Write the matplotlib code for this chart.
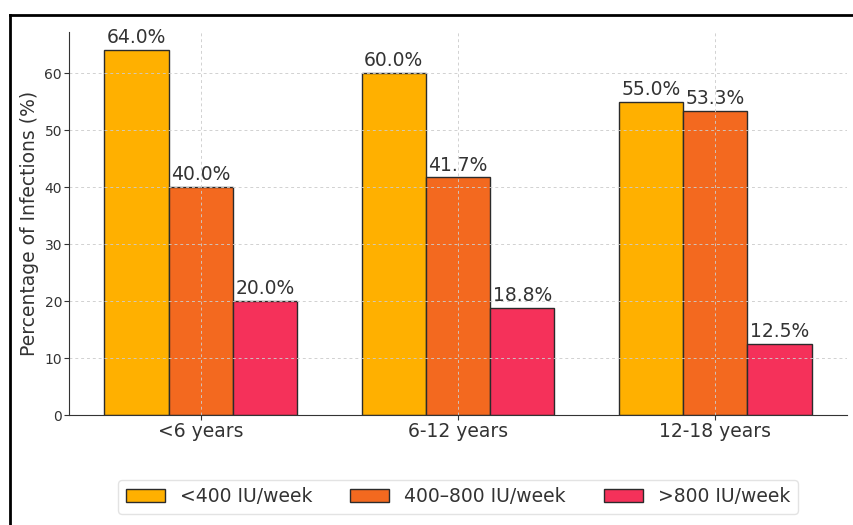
import matplotlib
matplotlib.use("Agg")
import matplotlib.pyplot as plt
from matplotlib.lines import Line2D
import numpy as np

age_groups = ["<6 years", "6-12 years", "12-18 years"]
dose_groups = ["<400 IU/week", "400\u2013800 IU/week", ">800 IU/week"]
low_dose = [64.0, 60.0, 55.0]
mid_dose = [40.0, 41.7, 53.3]
high_dose = [20.0, 18.8, 12.5]
colors = ["#FFB000", "#F3691F", "#F5315A"]

series = [low_dose, mid_dose, high_dose]

fig = plt.figure(figsize=(8.54, 5.25), dpi=100)
ax = fig.add_axes([0.0808, 0.2095, 0.911, 0.7295])

x = np.arange(len(age_groups))
width = 0.25
text_color = "#333333"

for i, (vals, label, color) in enumerate(zip(series, dose_groups, colors)):
    bars = ax.bar(x + (i - 1) * width, vals, width, label=label, color=color,
                  edgecolor="#2b2b2b", linewidth=1.0)
    for b, v in zip(bars, vals):
        ax.text(b.get_x() + b.get_width() / 2, v + 0.5, f"{v:.1f}%",
                ha="center", va="bottom", fontsize=13.5, color=text_color)

ax.set_xticks(x)
ax.set_xticklabels(age_groups, fontsize=13.5, color=text_color)
ax.tick_params(axis="y", labelsize=10, colors=text_color, pad=1.5)
ax.tick_params(axis="x", colors=text_color, pad=1.5)
ax.set_ylabel("Percentage of Infections (%)", fontsize=13.5, color=text_color,
              labelpad=4)
ax.set_ylim(0, 67.2)
ax.set_yticks([0, 10, 20, 30, 40, 50, 60])

ax.spines["top"].set_visible(False)
ax.spines["right"].set_visible(False)
ax.spines["left"].set_color("#333333")
ax.spines["bottom"].set_color("#333333")
ax.grid(True, linestyle=(0, (3, 3)), color="#cccccc", linewidth=0.7, alpha=0.9)

leg = ax.legend(loc="upper center", bbox_to_anchor=(0.5, -0.145), ncol=3,
                fontsize=13.5, frameon=True, handlelength=2.1, columnspacing=2.0,
                borderpad=0.4)
for t in leg.get_texts():
    t.set_color(text_color)
leg.get_frame().set_edgecolor("#dddddd")

# Outer frame lines along the left and top edges of the figure
fig.add_artist(Line2D([10 / 854, 10 / 854], [0, 1 - 15 / 525],
                      transform=fig.transFigure, color="black", linewidth=2))
fig.add_artist(Line2D([10 / 854, 1], [1 - 15 / 525, 1 - 15 / 525],
                      transform=fig.transFigure, color="black", linewidth=2))

fig.savefig("out.png", dpi=100)
